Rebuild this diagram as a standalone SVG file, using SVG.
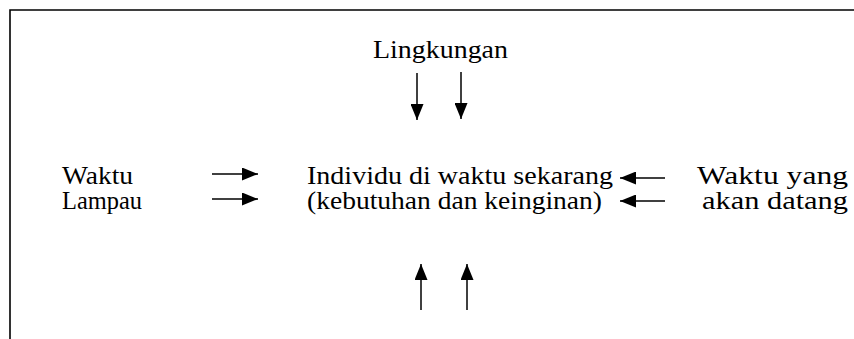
<svg xmlns="http://www.w3.org/2000/svg" width="854" height="339" viewBox="0 0 854 339">
  <style>
    .t { font-family: "Liberation Serif", "Times New Roman", serif; font-size: 25px; fill: #000; }
    .frame { fill: none; stroke: #000; stroke-width: 1.6; }
    .arrow { stroke: #000; stroke-width: 1.5; fill: none; }
  </style>
  <defs>
    <marker id="headL" viewBox="0 0 16 13" refX="16" refY="6.5" markerWidth="16" markerHeight="13" markerUnits="userSpaceOnUse" orient="auto">
      <path d="M0,0 L16,6.5 L0,13 Z" fill="#000"/>
    </marker>
  </defs>

  <!-- outer frame: top and left edges -->
  <path class="frame" d="M10,339 L10,10 L854,10"/>

  <g id="lingkungan">
    <text class="t" x="373" y="58" textLength="135" lengthAdjust="spacingAndGlyphs">Lingkungan</text>
  </g>
  <g id="waktu-lampau">
    <text class="t" x="62" y="184" textLength="71" lengthAdjust="spacingAndGlyphs">Waktu</text>
    <text class="t" x="62" y="209" textLength="80" lengthAdjust="spacingAndGlyphs">Lampau</text>
  </g>
  <g id="individu">
    <text class="t" x="307" y="184" textLength="306" lengthAdjust="spacingAndGlyphs">Individu di waktu sekarang</text>
    <text class="t" x="307" y="209" textLength="295" lengthAdjust="spacingAndGlyphs">(kebutuhan dan keinginan)</text>
  </g>
  <g id="waktu-datang">
    <text class="t" x="697" y="184" textLength="151" lengthAdjust="spacingAndGlyphs">Waktu yang</text>
    <text class="t" x="702" y="209" textLength="146" lengthAdjust="spacingAndGlyphs">akan datang</text>
  </g>

  <g id="connectors">
    <line class="arrow" x1="417" y1="73" x2="417" y2="120" marker-end="url(#headL)"/>
    <line class="arrow" x1="461" y1="72" x2="461" y2="119" marker-end="url(#headL)"/>
    <line class="arrow" x1="212" y1="174" x2="258" y2="174" marker-end="url(#headL)"/>
    <line class="arrow" x1="212" y1="199" x2="258" y2="199" marker-end="url(#headL)"/>
    <line class="arrow" x1="665" y1="178" x2="620" y2="178" marker-end="url(#headL)"/>
    <line class="arrow" x1="665" y1="201" x2="620" y2="201" marker-end="url(#headL)"/>
    <line class="arrow" x1="421" y1="310" x2="421" y2="264" marker-end="url(#headL)"/>
    <line class="arrow" x1="467" y1="310" x2="467" y2="264" marker-end="url(#headL)"/>
  </g>
</svg>
